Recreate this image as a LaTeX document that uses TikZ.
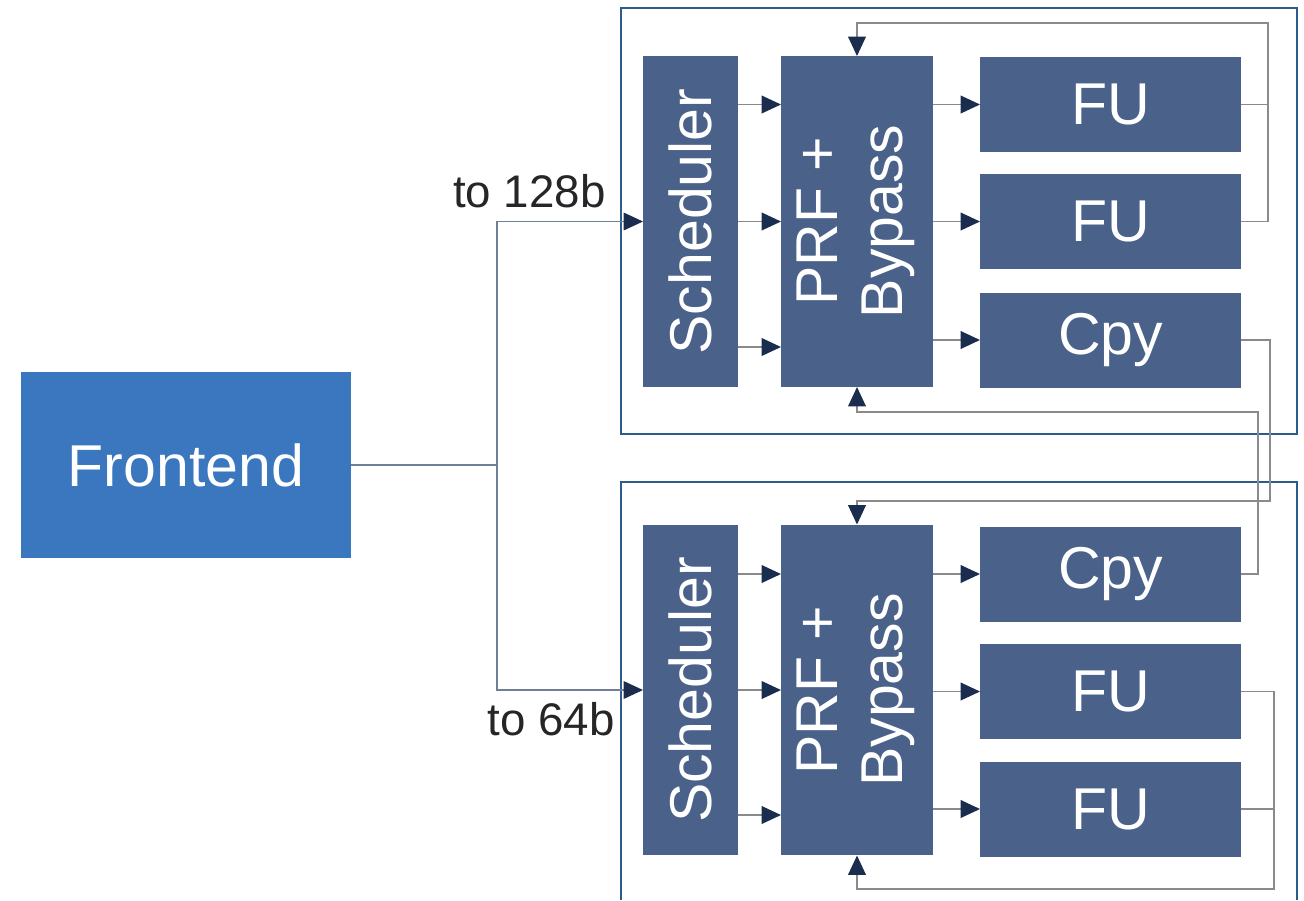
\documentclass[tikz,border=0pt]{standalone}
\usepackage{fontspec}
\setmainfont{Liberation Sans}
\usepackage{graphicx}
\usetikzlibrary{arrows.meta,calc}
\definecolor{blockc}{HTML}{4A6189}
\definecolor{frontc}{HTML}{3A77BF}
\definecolor{framec}{HTML}{2D5C8C}
\definecolor{linec}{HTML}{8A8A8A}
\definecolor{tipc}{HTML}{1B2D4F}
\definecolor{feedc}{HTML}{6F8096}

\tikzset{
  blk/.style={fill=blockc, text=white, inner sep=0pt, outer sep=0pt,
    font=\fontsize{33.6}{37}\selectfont},
  tall/.style={blk, minimum height=6.62cm},
  unit/.style={blk, minimum width=5.22cm, minimum height=1.9cm},
  flow/.style={draw=linec, line width=1pt,
    -{Triangle[length=11pt,width=10pt,color=tipc]}},
  wire/.style={draw=linec, line width=1pt},
  frame/.style={draw=framec, line width=1.2pt},
  lbl/.style={text=black!85, font=\fontsize{26}{30}\selectfont, inner sep=0pt}
}

\begin{document}
\begin{tikzpicture}[x=0.02cm, y=-0.02cm]
  \useasboundingbox (0,0) rectangle (1304,900);

  % the two clusters
  \draw[frame] (621,8) rectangle (1297,434);
  \draw[frame] (621,900) -- (621,482) -- (1297,482) -- (1297,900);

  \node[blk, fill=frontc, minimum width=6.6cm, minimum height=3.72cm] (fe) at (186,465) {Frontend};

  % 128b cluster
  \node[tall, minimum width=1.9cm] (sch1) at (690.5,221.5) {\rotatebox{90}{Scheduler}};
  \node[tall, minimum width=3.04cm] (prf1) at (857,221.5)
    {\rotatebox{90}{\begin{tabular}{@{}c@{}}PRF +\\Bypass\end{tabular}}};
  \node[unit] (fu1) at (1110.5,104.5) {FU};
  \node[unit] (fu2) at (1110.5,221.5) {FU};
  \node[unit] (cpy1) at (1110.5,340) {Cpy};

  % 64b cluster
  \node[tall, minimum width=1.9cm] (sch2) at (690.5,690) {\rotatebox{90}{Scheduler}};
  \node[tall, minimum width=3.04cm] (prf2) at (857,690)
    {\rotatebox{90}{\begin{tabular}{@{}c@{}}PRF +\\Bypass\end{tabular}}};
  \node[unit] (cpy2) at (1110.5,574) {Cpy};
  \node[unit] (fu3) at (1110.5,691.5) {FU};
  \node[unit] (fu4) at (1110.5,809) {FU};

  % frontend to both schedulers
  \coordinate (split) at (497,465);
  \draw[feedc, line width=0.8pt] (fe.east) -- (split);
  \draw[flow, draw=feedc, line width=0.8pt] (split) |- (sch1.west);
  \draw[flow, draw=feedc, line width=0.8pt] (split) |- (sch2.west);
  \node[lbl, anchor=base east] (l128) at (606,207) {to 128b};
  \node[lbl, anchor=base east] (l64) at (615,735) {to 64b};

  % issue and execute
  \draw[flow] (sch1.east |- fu1) -- (prf1.west |- fu1);
  \draw[flow] (sch1.east) -- (prf1.west);
  \draw[flow] ($(sch1.east |- cpy1)+(0,7)$) -- ($(prf1.west |- cpy1)+(0,7)$);
  \draw[flow] (prf1.east |- fu1) -- (fu1.west);
  \draw[flow] (prf1.east |- fu2) -- (fu2.west);
  \draw[flow] (prf1.east |- cpy1) -- (cpy1.west);

  \draw[flow] (sch2.east |- cpy2) -- (prf2.west |- cpy2);
  \draw[flow] (sch2.east) -- (prf2.west);
  \draw[flow] ($(sch2.east |- fu4)+(0,6)$) -- ($(prf2.west |- fu4)+(0,6)$);
  \draw[flow] (prf2.east |- cpy2) -- (cpy2.west);
  \draw[flow] (prf2.east |- fu3) -- (fu3.west);
  \draw[flow] (prf2.east |- fu4) -- (fu4.west);

  % write back
  \coordinate (ret1) at (1268,23);
  \coordinate (ret2) at (1270,501);
  \coordinate (ret3) at (1258,412);
  \coordinate (ret4) at (1274,889);
  \draw[flow] (fu2.east) -| (ret1) -| (prf1.north);
  \draw[wire] (fu1.east) -- (fu1.east -| ret1);
  \draw[flow] (cpy1.east) -| (ret2) -| (prf2.north);
  \draw[flow] (cpy2.east) -| (ret3) -| (prf1.south);
  \draw[flow] (fu3.east) -| (ret4) -| (prf2.south);
  \draw[wire] (fu4.east) -- (fu4.east -| ret4);
\end{tikzpicture}
\end{document}
